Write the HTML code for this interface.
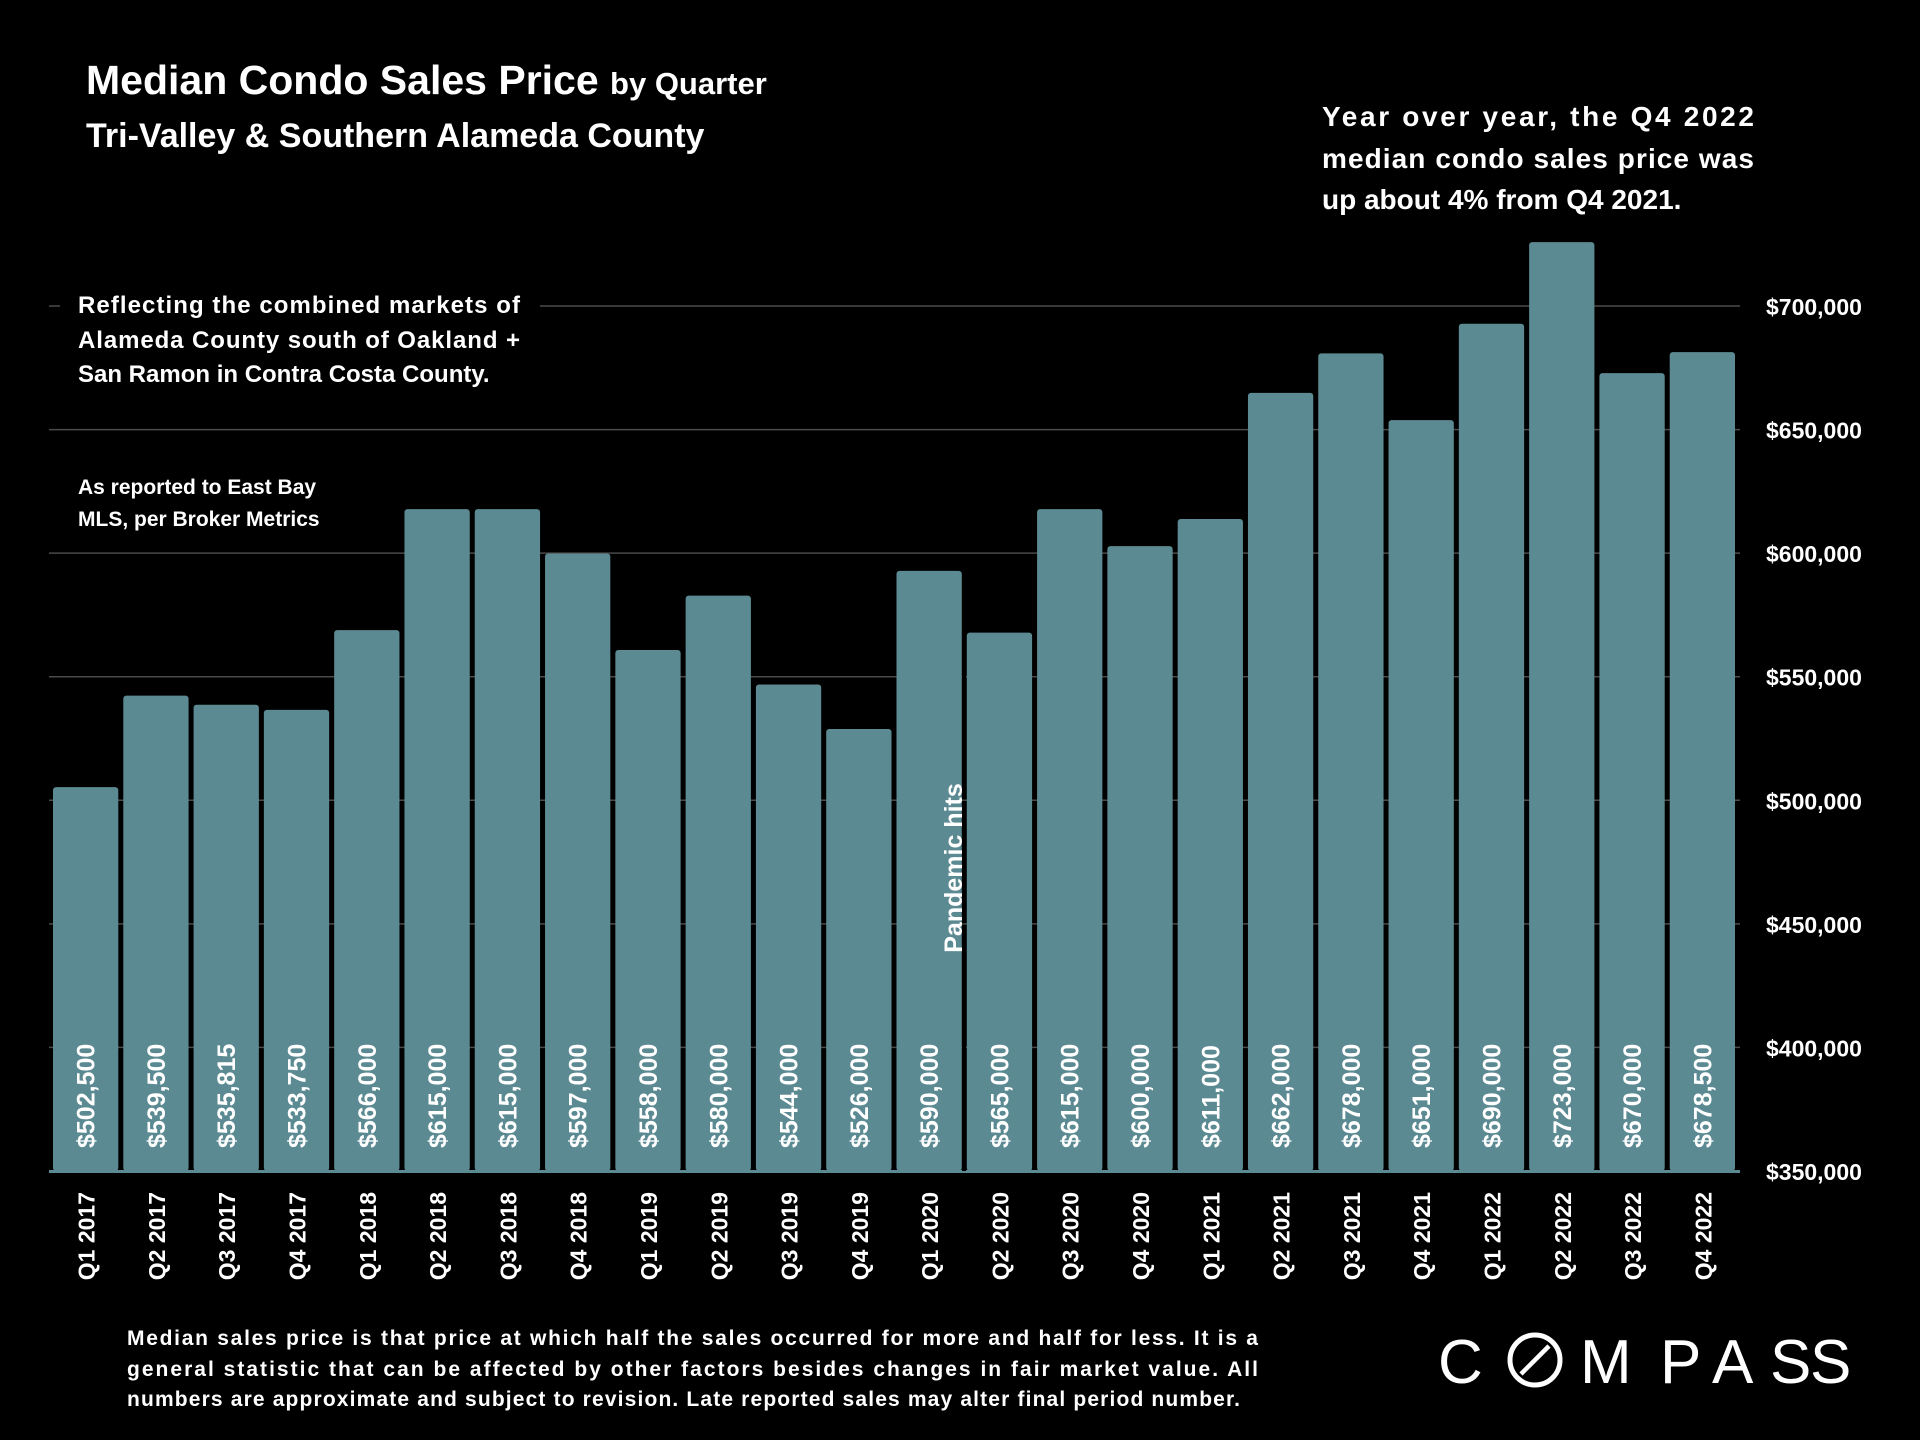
<!DOCTYPE html>
<html><head><meta charset="utf-8"><style>
body{margin:0;background:#000;}
svg{display:block;font-family:"Liberation Sans",sans-serif;}
</style></head><body>
<svg id="chart" width="1920" height="1440" viewBox="0 0 1920 1440" xmlns="http://www.w3.org/2000/svg">
<rect width="1920" height="1440" fill="#000"/>
<g id="grid"></g><g id="bars"></g><g id="labels"></g>
<text x="86" y="94" fill="#fff" font-weight="bold" font-size="41">Median Condo Sales Price <tspan font-size="31">by Quarter</tspan></text>
<text x="86" y="147" fill="#fff" font-weight="bold" font-size="34">Tri-Valley &amp; Southern Alameda County</text>
<g fill="#fff" font-weight="bold" font-size="28">
<text x="1322" y="126" textLength="432">Year over year, the Q4 2022</text>
<text x="1322" y="168" textLength="432">median condo sales price was</text>
<text x="1322" y="209">up about 4% from Q4 2021.</text>
</g>
<g fill="#fff" font-weight="bold" font-size="24">
<rect x="60" y="280" width="480" height="110" fill="#000"/>
<text x="78" y="313" textLength="442">Reflecting the combined markets of</text>
<text x="78" y="348" textLength="442">Alameda County south of Oakland +</text>
<text x="78" y="382">San Ramon in Contra Costa County.</text>
</g>
<g fill="#fff" font-weight="bold" font-size="21">
<text x="78" y="494">As reported to East Bay</text>
<text x="78" y="526">MLS, per Broker Metrics</text>
</g>
<g fill="#fff" font-weight="bold" font-size="21">
<text x="127" y="1345" textLength="1131">Median sales price is that price at which half the sales occurred for more and half for less. It is a</text>
<text x="127" y="1376" textLength="1131">general statistic that can be affected by other factors besides changes in fair market value. All</text>
<text x="127" y="1406" textLength="1113">numbers are approximate and subject to revision. Late reported sales may alter final period number.</text>
</g>
<g fill="#fff" font-size="62">
<text x="1438" y="1383">C</text>
<circle cx="1535" cy="1360" r="25" fill="none" stroke="#fff" stroke-width="5"/>
<line x1="1521" y1="1374" x2="1549" y2="1346" stroke="#fff" stroke-width="4.5"/>
<text x="1580" y="1383">M</text>
<text x="1660" y="1383">P</text>
<text x="1712" y="1383">A</text>
<text x="1770" y="1383">S</text>
<text x="1810" y="1383">S</text>
</g>
</svg>
<script>
const categories=["Q1 2017","Q2 2017","Q3 2017","Q4 2017","Q1 2018","Q2 2018","Q3 2018","Q4 2018","Q1 2019","Q2 2019","Q3 2019","Q4 2019","Q1 2020","Q2 2020","Q3 2020","Q4 2020","Q1 2021","Q2 2021","Q3 2021","Q4 2021","Q1 2022","Q2 2022","Q3 2022","Q4 2022"];
const values=[502500,539500,535815,533750,566000,615000,615000,597000,558000,580000,544000,526000,590000,565000,615000,600000,611000,662000,678000,651000,690000,723000,670000,678500];
const valueLabels=["$502,500","$539,500","$535,815","$533,750","$566,000","$615,000","$615,000","$597,000","$558,000","$580,000","$544,000","$526,000","$590,000","$565,000","$615,000","$600,000","$611,000","$662,000","$678,000","$651,000","$690,000","$723,000","$670,000","$678,500"];
const yTicks=[350000,400000,450000,500000,550000,600000,650000,700000];
const yTickLabels=["$350,000","$400,000","$450,000","$500,000","$550,000","$600,000","$650,000","$700,000"];
const NS="http://www.w3.org/2000/svg";
const X0=51,X1=1738,Y0=1171,YTOP=306;
const step=(X1-X0)/categories.length;
function y(v){return Y0-(v-350000)/(700000-350000)*(Y0-YTOP);}
function x(i){return X0+i*step;}
function mk(t,a,p){const e=document.createElementNS(NS,t);for(const k in a)e.setAttribute(k,a[k]);p.appendChild(e);return e;}
const grid=document.getElementById('grid'),bars=document.getElementById('bars'),labels=document.getElementById('labels');
yTicks.forEach((t,i)=>{
  const l=mk('line',{x1:49,x2:1740,y1:y(t),y2:y(t),stroke:'#4a4a4a','stroke-width':1.5},grid);
  
  
  const tx=mk('text',{x:1766,y:y(t)+9,fill:'#fff','font-size':23,'font-weight':'bold'},labels);
  tx.textContent=yTickLabels[i];
  
  
});
values.forEach((v,i)=>{
  const bx=x(i)+2,bw=step-5;
  const top=y(v)-7;
  const r=mk('rect',{x:bx,y:top,width:bw,height:Y0-top,fill:'#5b8a92',rx:3},bars);
  
  
  const cx=bx+bw/2;
  const vt=mk('text',{x:0,y:0,transform:`translate(${cx+9},1148) rotate(-90)`,fill:'#fff','font-size':25,'font-weight':'bold'},labels);
  vt.textContent=valueLabels[i];
  
  
  const ct=mk('text',{x:0,y:0,transform:`translate(${cx+9},1192) rotate(-90)`,fill:'#fff','font-size':23,'font-weight':'bold','text-anchor':'end'},labels);
  ct.textContent=categories[i];
  
  
});
mk('rect',{x:49,y:Y0-1,width:1691,height:3,fill:'#5b8a92'},bars);
const pl=mk('line',{x1:964,x2:964,y1:y(values[12])-7,y2:742,stroke:'#000','stroke-width':4},labels);


const pl2=mk('line',{x1:964,x2:964,y1:990,y2:Y0,stroke:'#000','stroke-width':4},labels);


const pt=mk('text',{x:0,y:0,transform:'translate(962,868) rotate(-90)',fill:'#fff','font-size':25,'font-weight':'bold','text-anchor':'middle'},labels);
pt.textContent='Pandemic hits';


</script>
</body></html>
